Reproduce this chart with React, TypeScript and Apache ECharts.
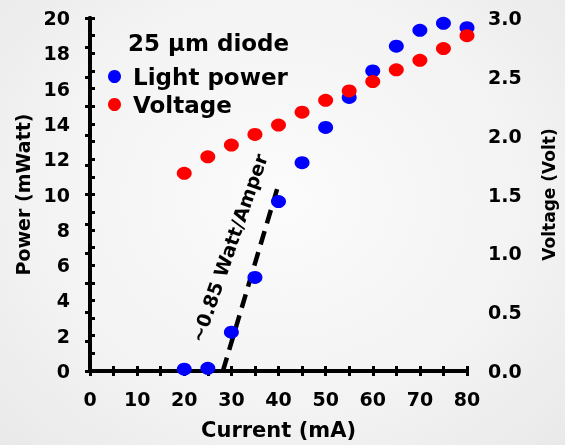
import React, { useEffect, useRef } from "react";
import * as echarts from "echarts";

const currents = [20, 25, 30, 35, 40, 45, 50, 55, 60, 65, 70, 75, 80];
const lightPower = [0.1, 0.15, 2.2, 5.3, 9.6, 11.8, 13.8, 15.5, 17.0, 18.4, 19.3, 19.7, 19.45];
const voltage = [1.68, 1.82, 1.92, 2.01, 2.09, 2.2, 2.3, 2.38, 2.46, 2.56, 2.64, 2.74, 2.85];
const fitCurrent = [28.2, 39.7];
const fitPower = [0, 10.3];

const FONT = "DejaVu Sans";

export default function App() {
  const ref = useRef<HTMLDivElement>(null);
  useEffect(() => {
    if (!ref.current) return;
    const chart = echarts.init(ref.current, undefined, { renderer: "svg" });
    const axisLineStyle = { color: "#000", width: 4 };
    const tickStyle = { color: "#000", width: 3 };
    const labelStyle = { color: "#000", fontFamily: FONT, fontWeight: "bold" as const, fontSize: 19 };
    chart.setOption({
      animation: false,
      backgroundColor: "transparent",
      grid: { left: 90, right: 92, top: 18, bottom: 72, containLabel: false },
      legend: {
        data: ["Light power", "Voltage"],
        orient: "vertical",
        left: 103,
        top: 60,
        icon: "circle",
        itemWidth: 15,
        itemHeight: 13,
        itemGap: 5,
        textStyle: { color: "#000", fontFamily: FONT, fontWeight: "bold", fontSize: 23, lineHeight: 23, padding: [0, 0, 0, 6] },
      },
      xAxis: [
        {
          type: "value",
          position: "bottom",
          min: 0,
          max: 80,
          interval: 5,
          name: "Current (mA)",
          nameLocation: "middle",
          nameGap: 48,
          nameTextStyle: { color: "#000", fontFamily: FONT, fontWeight: "bold", fontSize: 21 },
          axisLine: { show: true, lineStyle: axisLineStyle },
          axisTick: { show: true, inside: true, length: 5, lineStyle: tickStyle },
          axisLabel: { ...labelStyle, margin: 18, formatter: (v: number) => (v % 10 === 0 ? String(v) : "") },
          splitLine: { show: false },
        },
        {
          type: "value",
          position: "top",
          min: 0,
          max: 80,
          interval: 5,
          axisLine: { show: true, lineStyle: axisLineStyle },
          axisTick: { show: true, inside: true, length: 5, lineStyle: tickStyle },
          axisLabel: { show: false },
          splitLine: { show: false },
        },
      ],
      yAxis: [
        {
          type: "value",
          position: "left",
          min: 0,
          max: 20,
          interval: 1,
          name: "Power (mWatt)",
          nameLocation: "middle",
          nameGap: 46,
          nameTextStyle: { color: "#000", fontFamily: FONT, fontWeight: "bold", fontSize: 19 },
          axisLine: { show: true, lineStyle: axisLineStyle },
          axisTick: { show: true, inside: true, length: 5, lineStyle: tickStyle },
          axisLabel: { ...labelStyle, margin: 20, formatter: (v: number) => (v % 2 === 0 ? String(v) : "") },
          splitLine: { show: false },
        },
        {
          type: "value",
          position: "right",
          min: 0,
          max: 3,
          interval: 0.25,
          name: "Voltage (Volt)",
          nameLocation: "middle",
          nameGap: 73,
          nameRotate: 90,
          nameTextStyle: { color: "#000", fontFamily: FONT, fontWeight: "bold", fontSize: 17 },
          axisLine: { show: true, lineStyle: axisLineStyle },
          axisTick: { show: true, inside: true, length: 5, lineStyle: tickStyle },
          axisLabel: {
            ...labelStyle,
            margin: 21,
            formatter: (v: number) => (Math.round(v * 100) % 50 === 0 ? v.toFixed(1) : ""),
          },
          splitLine: { show: false },
        },
      ],
      series: [
        {
          name: "fit",
          type: "line",
          xAxisIndex: 0,
          yAxisIndex: 0,
          data: fitCurrent.map((c, i) => [c, fitPower[i]]),
          showSymbol: false,
          symbol: "none",
          lineStyle: { color: "#000", width: 4.5, type: [14, 8] },
          z: 1,
        },
        {
          name: "Light power",
          type: "scatter",
          xAxisIndex: 0,
          yAxisIndex: 0,
          data: currents.map((c, i) => [c, lightPower[i]]),
          symbol: "circle",
          symbolSize: [15, 13],
          itemStyle: { color: "#0000ff", opacity: 1 },
          z: 2,
        },
        {
          name: "Voltage",
          type: "scatter",
          xAxisIndex: 0,
          yAxisIndex: 1,
          data: currents.map((c, i) => [c, voltage[i]]),
          symbol: "circle",
          symbolSize: [15, 13],
          itemStyle: { color: "#ff0000", opacity: 1 },
          z: 3,
        },
      ],
      graphic: [
        {
          type: "text",
          left: 128,
          top: 31,
          style: { text: "25 µm diode", fill: "#000", font: `bold 23px "${FONT}"` },
        },
        {
          type: "text",
          x: 229,
          y: 248,
          rotation: (70.8 * Math.PI) / 180,
          style: {
            text: "~0.85 Watt/Amper",
            fill: "#000",
            font: `bold 19px "${FONT}"`,
            align: "center",
            verticalAlign: "middle",
          },
        },
      ],
    });
    return () => chart.dispose();
  }, []);
  return (
    <div
      style={{
        position: "fixed",
        left: 0,
        top: 0,
        width: 565,
        height: 445,
        background: "radial-gradient(ellipse at 50% 45%, #fbfbfb 0%, #f3f3f3 60%, #e9e9e9 100%)",
      }}
    >
      <div ref={ref} style={{ width: 565, height: 445 }} />
    </div>
  );
}
